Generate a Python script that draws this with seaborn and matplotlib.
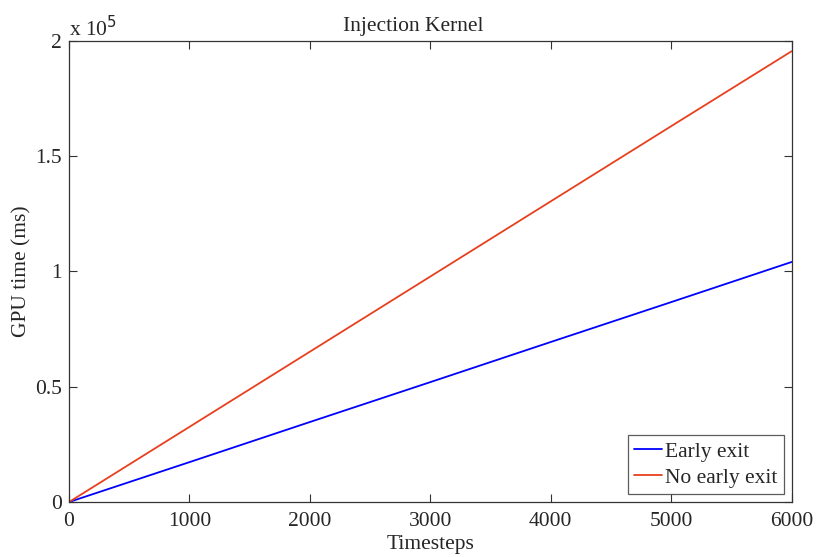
import numpy as np
import pandas as pd
import seaborn as sns
import matplotlib.pyplot as plt
from matplotlib.ticker import FuncFormatter

timesteps = [0, 1000, 2000, 3000, 4000, 5000, 6000]
early_exit = [0, 17300, 34700, 52000, 69400, 86700, 104100]
no_early_exit = [0, 32600, 65200, 97800, 130400, 163000, 195500]
series_names = ["Early exit", "No early exit"]

df = pd.DataFrame({
    "Timesteps": timesteps * 2,
    "GPU time (ms)": early_exit + no_early_exit,
    "series": [series_names[0]] * len(timesteps) + [series_names[1]] * len(timesteps),
})

sns.set_style("ticks")
plt.rcParams["font.family"] = ["Liberation Serif", "DejaVu Serif"]
fs = 15.5

fig = plt.figure(figsize=(8.17, 5.57), dpi=100)
ax = fig.add_axes([0.0845, 0.0987, 0.8845, 0.828])

palette = {"Early exit": "#0000ff", "No early exit": "#e8401e"}
sns.lineplot(data=df, x="Timesteps", y="GPU time (ms)", hue="series",
             palette=palette, linewidth=1.3, ax=ax)

ax.set_xlim(0, 6000)
ax.set_ylim(0, 2e5)
ax.set_xticks(range(0, 6001, 1000))
ax.set_yticks([0, 0.5e5, 1e5, 1.5e5, 2e5])
ax.yaxis.set_major_formatter(FuncFormatter(lambda v, p: f"{v / 1e5:g}"))

ax.tick_params(direction="in", top=True, right=True, length=6,
               labelsize=fs, color="#333333")
ax.tick_params(axis="x", pad=7)
ax.tick_params(axis="y", pad=5)
for s in ax.spines.values():
    s.set_color("#333333")
    s.set_linewidth(0.9)

ax.set_title("Injection Kernel", fontsize=fs, pad=7, x=0.477)
ax.set_xlabel("Timesteps", fontsize=fs, labelpad=3)
ax.set_ylabel("GPU time (ms)", fontsize=fs, labelpad=3)
ax.text(0.0, 1.0, r"x 10$^{5}$", transform=ax.transAxes, fontsize=fs,
        ha="left", va="bottom")

leg = ax.legend(loc="lower right", fontsize=fs, frameon=True, fancybox=False,
                borderpad=0.3, handlelength=1.3, handletextpad=0.15,
                labelspacing=0.3, borderaxespad=0.35)
leg.get_frame().set_edgecolor("#333333")
leg.get_frame().set_linewidth(0.9)
leg.set_title(None)

fig.savefig("out.png", dpi=100)
